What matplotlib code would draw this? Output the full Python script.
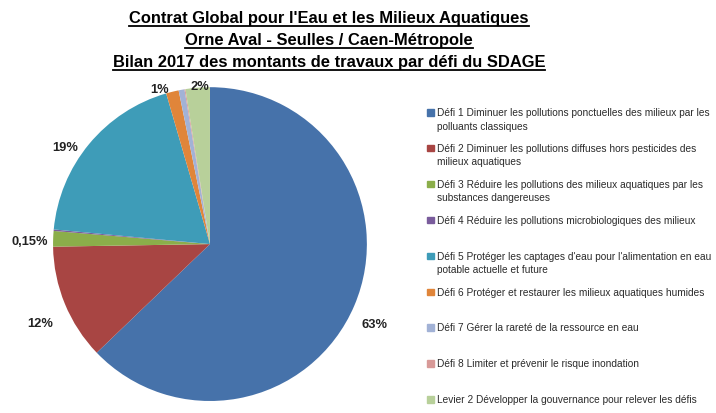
import numpy as np
import matplotlib
matplotlib.use('Agg')
import matplotlib.pyplot as plt
from matplotlib.patches import Rectangle

# data (percent of total works amount)
categories = ['Défi 1 Diminuer les pollutions ponctuelles des milieux par les\npolluants classiques',
              'Défi 2 Diminuer les pollutions diffuses hors pesticides des\nmilieux aquatiques',
              'Défi 3 Réduire les pollutions des milieux aquatiques par les\nsubstances dangereuses',
              'Défi 4 Réduire les pollutions microbiologiques des milieux',
              "Défi 5 Protéger les captages d'eau pour l'alimentation en eau\npotable actuelle et future",
              'Défi 6 Protéger et restaurer les milieux aquatiques humides',
              'Défi 7 Gérer la rareté de la ressource en eau',
              'Défi 8 Limiter et prévenir le risque inondation',
              'Levier 2 Développer la gouvernance pour relever les défis']
values = [62.8, 11.9, 1.6, 0.15, 19.0, 1.3, 0.6, 0.1, 2.5]
# shown labels (Excel only shows some of them)
slice_labels = ['63%', '12%', '', '0,15%', '19%', '1%', '', '', '2%']

colors = ['#4672AA', '#A84543', '#8BAE4A', '#7A5C9C', '#3E9CB8',
          '#E0853A', '#A2B2D6', '#D89A98', '#B8D09A']
# where Excel put the data labels (pie radius = 1)
label_pos = [(1.05, -0.51), (-1.08, -0.50), None, (-1.146, 0.02),
             (-0.92, 0.62), (-0.32, 0.99), None, None, (-0.064, 1.006)]

plt.rcParams['font.family'] = ['Liberation Sans', 'DejaVu Sans']

fig = plt.figure(figsize=(7.16, 4.14), dpi=100)
ax = fig.add_axes([0.074, 0.029, 0.4385, 0.758])

wedges, _ = ax.pie(values, colors=colors, startangle=90, counterclock=False,
                   radius=1, wedgeprops={'linewidth': 0})
ax.set_xlim(-1, 1)
ax.set_ylim(-1, 1)
ax.set_aspect('equal')

for lab, pos in zip(slice_labels, label_pos):
    if not lab:
        continue
    ax.text(pos[0], pos[1], lab, ha='center', va='center',
            fontsize=9.3, fontweight='bold', color='#222222', clip_on=False)

# legend, drawn by hand to match the Excel spacing
y0 = 1 - 113 / 414
step = 35.9 / 414
for i, (c, txt) in enumerate(zip(colors, categories)):
    y = y0 - i * step
    fig.patches.append(Rectangle((427 / 716, y - 3.5 / 414), 6.5 / 716, 6.5 / 414,
                                 transform=fig.transFigure, color=c))
    fig.text(437 / 716, y + 5 / 414, txt, ha='left', va='top', fontsize=7.3,
             color='#2b2b2b', linespacing=1.45)

# title with underline
titles = ["Contrat Global pour l'Eau et les Milieux Aquatiques",
          'Orne Aval - Seulles / Caen-Métropole',
          'Bilan 2017 des montants de travaux par défi du SDAGE']
tts = []
for i, t in enumerate(titles):
    tts.append(fig.text(329 / 716, 1 - (19 + i * 21.8) / 414, t, ha='center',
                        va='center', fontsize=11.9, fontweight='bold', color='black'))

fig.canvas.draw()
r = fig.canvas.get_renderer()
for t in tts:
    bb = t.get_window_extent(r)
    yy = (bb.y0 - 0.5) / fig.bbox.height
    fig.add_artist(plt.Line2D([bb.x0 / fig.bbox.width, bb.x1 / fig.bbox.width], [yy, yy],
                              transform=fig.transFigure, color='black', linewidth=1.3))

fig.savefig('out.png', dpi=100)
